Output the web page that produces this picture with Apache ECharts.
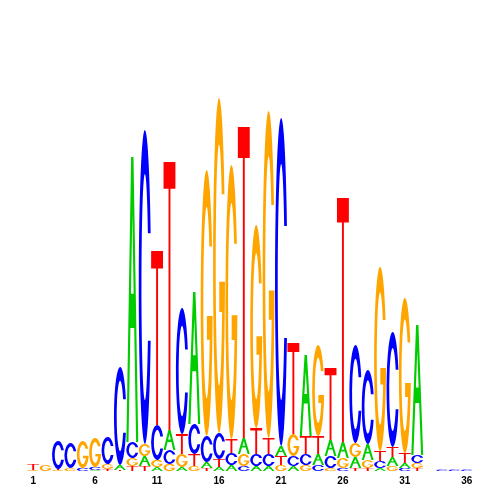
<!DOCTYPE html>
<html>
<head>
<meta charset="utf-8">
<script src="https://cdn.jsdelivr.net/npm/echarts@6/dist/echarts.min.js"></script>
<style>
  html, body { margin: 0; padding: 0; background: #fff; }
  #chart { width: 500px; height: 500px; }
</style>
</head>
<body>
<div id="chart"></div>
<script>
// positions 1..36
var positions = [];
for (var i = 1; i <= 36; i++) positions.push(String(i));

// letter heights per position (bits)
var hA = [0, 0, 0, 0, 0, 0.01, 0, 0.05, 2.85, 0.10, 0.04, 0.20, 0.04, 1.32, 0.06, 0.04, 0.06, 0.16,
          0.05, 0.05, 0.10, 0.05, 0.81, 0.11, 0.16, 0.16, 0.11, 0.16, 0.03, 0.09, 0.05, 1.30, 0, 0, 0, 0];
var hC = [0, 0, 0.28, 0.25, 0.03, 0.03, 0.27, 0.98, 0.16, 3.14, 0.35, 0.14, 1.26, 0.30, 0.26, 0.26, 0.12, 0.05,
          0.12, 0.12, 3.28, 0.10, 0.11, 0.06, 0.12, 0.03, 0.98, 0.74, 0.07, 1.15, 0.03, 0.08, 0, 0.015, 0.015, 0.015];
var hG = [0.01, 0.06, 0.01, 0.03, 0.27, 0.29, 0.05, 0, 0.08, 0.12, 0.07, 0.07, 0.13, 0.05, 2.66, 3.35, 2.74, 0.12,
          2.03, 3.27, 0.06, 0.22, 0.06, 0.91, 0.03, 0.10, 0.14, 0.08, 1.84, 0.05, 1.55, 0.05, 0, 0, 0, 0];
var hT = [0.06, 0, 0.01, 0, 0, 0, 0.02, 0.01, 0.05, 0.05, 1.74, 2.68, 0.20, 0.12, 0.03, 0.08, 0.14, 3.11,
          0.26, 0.16, 0.09, 0.91, 0.18, 0.18, 0.72, 2.44, 0.03, 0.03, 0.10, 0.10, 0.10, 0.03, 0, 0, 0, 0];

var letters = ['A', 'C', 'G', 'T'];
var colors = ['#00cc00', '#0000ff', '#ffa500', '#ff0000'];

// glyph outlines in a 100x100 box
var glyphs = [
  'M40,0 L60,0 L100,100 L82,100 L66,60 L34,60 L18,100 L0,100 Z M50,20 L38.8,48 L61.2,48 Z',
  'M97,32.9 A50,50 0 1 0 97,67.1 L74.6,67.1 A28,36 0 1 1 74.6,32.9 Z',
  'M95.3,28.9 A50,50 0 1 0 99.8,55 L52,55 L52,64 L75.8,64 A28,36 0 1 1 72.7,28.9 Z',
  'M0,0 L100,0 L100,10 L58,10 L58,100 L42,100 L42,10 L0,10 Z'
];

// stack letters, smallest at bottom
var heights = [hA, hC, hG, hT];
var stacks = [];
for (var p = 0; p < positions.length; p++) {
  var col = [0, 1, 2, 3].filter(function (k) { return heights[k][p] > 0; });
  col.sort(function (a, b) { return heights[a][p] - heights[b][p]; });
  var y = 0;
  col.forEach(function (k) {
    stacks.push([p, y, y + heights[k][p], k]);
    y += heights[k][p];
  });
}

var chart = echarts.init(document.getElementById('chart'));
chart.setOption({
  animation: false,
  grid: { left: 27, right: 27, top: 71, bottom: 29 },
  xAxis: {
    type: 'category',
    data: positions,
    axisLine: { show: false },
    axisTick: { show: false },
    axisLabel: {
      interval: 4,
      color: '#000',
      fontWeight: 'bold',
      fontSize: 10,
      fontFamily: 'Liberation Sans',
      margin: 5
    }
  },
  yAxis: { type: 'value', min: 0, max: 4, show: false },
  series: [{
    type: 'custom',
    data: stacks,
    encode: { x: 0, y: [1, 2] },
    renderItem: function (params, api) {
      var x = api.value(0);
      var bot = api.coord([x, api.value(1)]);
      var top = api.coord([x, api.value(2)]);
      var w = api.size([1, 0])[0] * 0.96;
      var k = api.value(3);
      return {
        type: 'path',
        shape: {
          pathData: glyphs[k],
          x: bot[0] - w / 2,
          y: top[1],
          width: w,
          height: Math.max(bot[1] - top[1], 0.3),
          layout: 'cover'
        },
        style: { fill: colors[k] }
      };
    }
  }]
});
</script>
</body>
</html>
